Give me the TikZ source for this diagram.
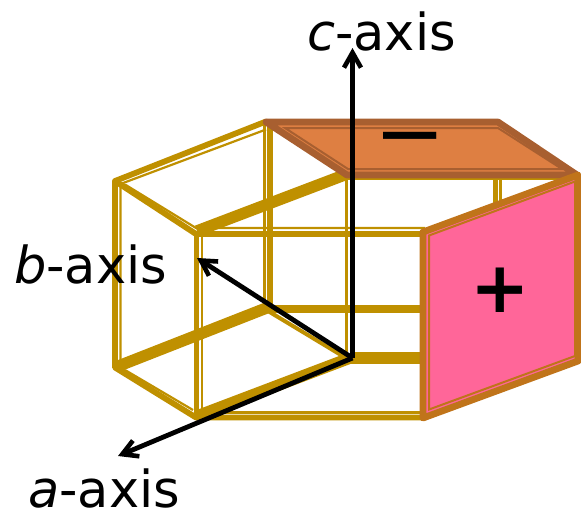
\documentclass[tikz,border=0pt]{standalone}
\usepackage{fontspec}
\setmainfont{DejaVu Sans}
\usetikzlibrary{arrows.meta}
\definecolor{gold}{HTML}{BF9000}
\definecolor{topfill}{HTML}{DE7F42}
\definecolor{topedge}{HTML}{A85F30}
\definecolor{pinkfill}{HTML}{FF6699}
\definecolor{pinkedge}{HTML}{C0741A}
\tikzset{
  goldthick/.style={draw=gold,line width=5.8pt,line cap=round,line join=round},
  goldheavy/.style={draw=gold,line width=11.5pt},
  goldthin/.style={draw=gold,line width=2.2pt},
  axisarrow/.style={draw=black,line width=4.8pt,-{Straight Barb[length=15pt,width=17pt,line width=4.6pt]}},
  axislabel/.style={anchor=base west,inner sep=0pt,font=\fontsize{51}{51}\selectfont,text=black},
  signlabel/.style={inner sep=0pt,text=black}
}
\begin{document}
\begin{tikzpicture}[x=1pt,y=-1pt]
\useasboundingbox (0,0) rectangle (581,523);
% outer thick edges
\draw[goldthick] (266,121.5) -- (115,181) -- (115,367.5) -- (196,417.5) -- (425,417.5);
\draw[goldthick] (115,181) -- (196,234) -- (425,234);
\draw[goldthick] (196.5,234) -- (196.5,417.5);
\draw[goldthick] (270,122) -- (270,308) -- (425,308);
\draw[goldthick] (495.5,174) -- (495.5,210);
% inner thin edges
\draw[goldthin] (266,129.5) -- (120.5,184) -- (120.5,362);
\draw[goldthin] (125,184.5) -- (196,228) -- (425,228);
\draw[goldthin] (202,236) -- (202,412.5) -- (425,412.5);
\draw[goldthin] (264.5,125) -- (264.5,306);
\draw[goldthin] (272,311.5) -- (425,311.5);
\draw[goldthin] (125,370) -- (193,410);
\draw[goldthin] (346.5,178) -- (346.5,358);
\draw[goldthin] (500.5,176) -- (500.5,210);
% heavy edges
\draw[goldheavy] (197,231) -- (347,174);
\draw[goldheavy] (116,367) -- (269,307);
\draw[goldheavy] (197,416) -- (350,358);
\draw[goldheavy] (350,358) -- (425,358);
\draw[draw=gold,line width=4pt] (268,311) -- (346,358);
\draw[goldthin] (347,179.3) -- (560,179.3);
% top face
\draw[fill=topfill,draw=topedge,line width=6.8pt,line join=round] (266,122) -- (498,122) -- (577,175) -- (347,175) -- cycle;
\draw[draw=topedge,line width=2pt] (285,128) -- (498,128) -- (562,169) -- (348,169) -- cycle;
% right face
\draw[fill=pinkfill,draw=pinkedge,line width=6.8pt,line join=round] (423,232) -- (578,175) -- (578,361) -- (423,418) -- cycle;
\draw[draw=pinkedge,line width=2pt] (429,235.5) -- (575,181.5) -- (575,356) -- (429,409.5) -- cycle;
% signs
\node[signlabel,font=\fontsize{85}{85}\selectfont] (minus) at (410.5,147) {−};
\node[signlabel,font=\bfseries\fontsize{71}{71}\selectfont] (plus) at (500.5,290.5) {+};
% axes
\coordinate (origin) at (352.5,358);
\coordinate (ctip) at (352.5,48);
\coordinate (btip) at (197,258);
\coordinate (atip) at (118,456);
\draw[axisarrow] (origin) -- (ctip);
\draw[axisarrow] (origin) -- (btip);
\draw[axisarrow] (origin) -- (atip);
\node[axislabel] (clabel) at (307,50) {\textit{c}-axis};
\node[axislabel] (blabel) at (14,283) {\textit{b}-axis};
\node[axislabel] (alabel) at (28,507) {\textit{a}-axis};
\end{tikzpicture}
\end{document}
